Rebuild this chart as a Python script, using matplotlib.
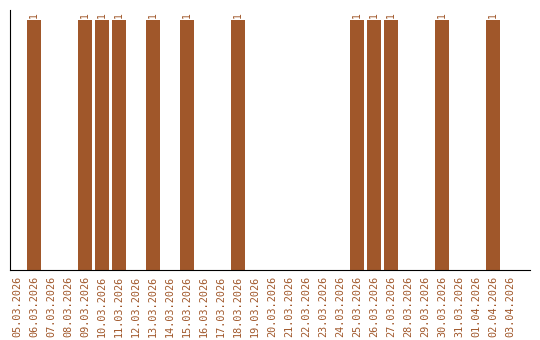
"""Daily counts bar chart, 05.03.2026 - 03.04.2026."""
import matplotlib
matplotlib.use("Agg")
import matplotlib.pyplot as plt

BROWN = "#A0572A"

dates = ["05.03.2026", "06.03.2026", "07.03.2026", "08.03.2026", "09.03.2026",
         "10.03.2026", "11.03.2026", "12.03.2026", "13.03.2026", "14.03.2026",
         "15.03.2026", "16.03.2026", "17.03.2026", "18.03.2026", "19.03.2026",
         "20.03.2026", "21.03.2026", "22.03.2026", "23.03.2026", "24.03.2026",
         "25.03.2026", "26.03.2026", "27.03.2026", "28.03.2026", "29.03.2026",
         "30.03.2026", "31.03.2026", "01.04.2026", "02.04.2026", "03.04.2026"]
counts = [0, 1, 0, 0, 1, 1, 1, 0, 1, 0,
          1, 0, 0, 1, 0, 0, 0, 0, 0, 0,
          1, 1, 1, 0, 0, 1, 0, 0, 1, 0]

plt.rcParams["font.family"] = ["DejaVu Sans Mono"]

fig = plt.figure(figsize=(5.4, 3.4), dpi=100)
ax = fig.add_axes([10 / 540, 70 / 340, 520 / 540, 260 / 340])

x = list(range(len(dates)))
ax.bar(x, counts, width=0.82, color=BROWN)
for xi, c in zip(x, counts):
    if c > 0:
        ax.text(xi, c + 0.008, str(c), rotation=90, ha="center", va="bottom",
                fontsize=7, color=BROWN)

ax.set_xlim(-0.41, 30.18)
ax.set_ylim(0, 1.04)
ax.set_xticks(x)
ax.set_xticklabels(dates, rotation=90, fontsize=7.3, color=BROWN)
ax.tick_params(axis="x", length=0, pad=4)
ax.set_yticks([])
ax.spines["top"].set_visible(False)
ax.spines["right"].set_visible(False)

fig.savefig("out.png", dpi=100)
